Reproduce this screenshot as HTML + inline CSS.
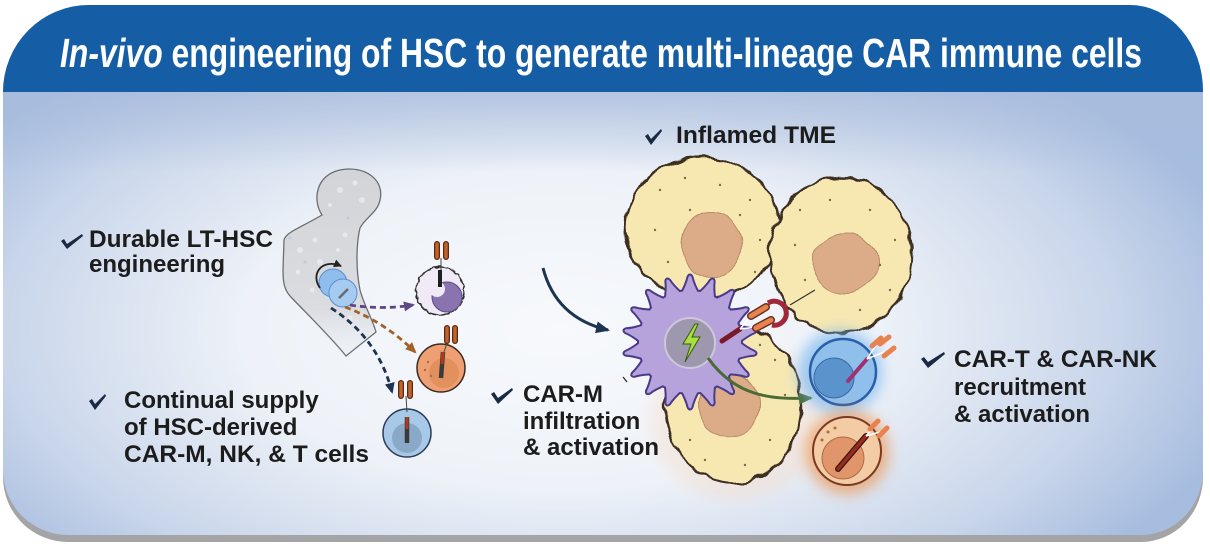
<!DOCTYPE html>
<html><head><meta charset="utf-8">
<style>
html,body{margin:0;padding:0;background:#fff;}
svg{display:block;}
text{font-family:"Liberation Sans",Arial,sans-serif;}
</style></head>
<body>
<svg width="1210" height="547" viewBox="0 0 1210 547" xmlns="http://www.w3.org/2000/svg">
<defs>
  <clipPath id="card"><path d="M3,92 A86 87 0 0 1 89,5 L1130,5 A73 86 0 0 1 1203,91 L1203,470 A62 65 0 0 1 1141,535 L68,535 A65 65 0 0 1 3,470 Z"/></clipPath>
  <radialGradient id="bg" gradientUnits="userSpaceOnUse" cx="560" cy="330" r="700" gradientTransform="translate(560 330) scale(1 0.5) translate(-560 -330)">
    <stop offset="0" stop-color="#f7f9fc"/>
    <stop offset="0.45" stop-color="#eef2f8"/>
    <stop offset="0.8" stop-color="#c8d5ea"/>
    <stop offset="1" stop-color="#a7bddf"/>
  </radialGradient>
  <linearGradient id="topfade" x1="0" y1="0" x2="0" y2="1">
    <stop offset="0" stop-color="#a8bbdc" stop-opacity="0.7"/>
    <stop offset="1" stop-color="#a8bbdc" stop-opacity="0"/>
  </linearGradient>
  <linearGradient id="bonefade" x1="0" y1="0" x2="0" y2="1">
    <stop offset="0" stop-color="#d2d4d8"/>
    <stop offset="0.75" stop-color="#dadce0"/>
    <stop offset="1" stop-color="#e8ebf0" stop-opacity="0.3"/>
  </linearGradient>
  <filter id="wob" x="-20%" y="-20%" width="140%" height="140%">
    <feTurbulence type="fractalNoise" baseFrequency="0.08" numOctaves="1" seed="4" result="n"/>
    <feDisplacementMap in="SourceGraphic" in2="n" scale="10" xChannelSelector="R" yChannelSelector="G"/>
  </filter>
  <filter id="wob2" x="-20%" y="-20%" width="140%" height="140%">
    <feTurbulence type="fractalNoise" baseFrequency="0.04" numOctaves="1" seed="7" result="n"/>
    <feDisplacementMap in="SourceGraphic" in2="n" scale="8" xChannelSelector="R" yChannelSelector="G"/>
  </filter>
  <filter id="wob3" x="-20%" y="-20%" width="140%" height="140%">
    <feTurbulence type="fractalNoise" baseFrequency="0.25" numOctaves="1" seed="2" result="n"/>
    <feDisplacementMap in="SourceGraphic" in2="n" scale="4" xChannelSelector="R" yChannelSelector="G"/>
  </filter>
  <filter id="blur" x="-50%" y="-50%" width="200%" height="200%"><feGaussianBlur stdDeviation="7"/></filter>
  <marker id="mNavy" markerUnits="userSpaceOnUse" markerWidth="16" markerHeight="16" refX="12" refY="8" orient="auto"><path d="M0,2 L14,8 L0,14 Z" fill="#1d3450"/></marker>
  <marker id="mGreen" markerUnits="userSpaceOnUse" markerWidth="16" markerHeight="16" refX="12" refY="8" orient="auto"><path d="M0,2 L14,8 L0,14 Z" fill="#4a6b35"/></marker>
  <marker id="mPur" markerUnits="userSpaceOnUse" markerWidth="12" markerHeight="12" refX="9" refY="6" orient="auto"><path d="M0,1 L11,6 L0,11 Z" fill="#5e4584"/></marker>
  <marker id="mBrn" markerUnits="userSpaceOnUse" markerWidth="12" markerHeight="12" refX="9" refY="6" orient="auto"><path d="M0,1 L11,6 L0,11 Z" fill="#a0622a"/></marker>
  <marker id="mDk" markerUnits="userSpaceOnUse" markerWidth="12" markerHeight="12" refX="9" refY="6" orient="auto"><path d="M0,1 L11,6 L0,11 Z" fill="#1e3350"/></marker>
  <marker id="mBlk" markerUnits="userSpaceOnUse" markerWidth="10" markerHeight="10" refX="7" refY="5" orient="auto"><path d="M0,1 L8,5 L0,9 Z" fill="#222"/></marker>
  <path id="sp" d="M-9,-47 Q-3,-58 -1.5,-65 Q0,-68 1.5,-65 Q3,-58 9,-47 Z"/>
  <g id="spikes">
    <circle cx="0" cy="0" r="51"/>
    <use href="#sp"/>
    <use href="#sp" transform="rotate(20)"/>
    <use href="#sp" transform="rotate(40)"/>
    <use href="#sp" transform="rotate(60)"/>
    <use href="#sp" transform="rotate(80)"/>
    <use href="#sp" transform="rotate(100)"/>
    <use href="#sp" transform="rotate(120)"/>
    <use href="#sp" transform="rotate(140)"/>
    <use href="#sp" transform="rotate(160)"/>
    <use href="#sp" transform="rotate(180)"/>
    <use href="#sp" transform="rotate(200)"/>
    <use href="#sp" transform="rotate(220)"/>
    <use href="#sp" transform="rotate(240)"/>
    <use href="#sp" transform="rotate(260)"/>
    <use href="#sp" transform="rotate(280)"/>
    <use href="#sp" transform="rotate(300)"/>
    <use href="#sp" transform="rotate(320)"/>
    <use href="#sp" transform="rotate(340)"/>
  </g>
</defs>

<!-- shadow -->
<path transform="translate(0 7)" d="M3,92 A86 87 0 0 1 89,5 L1130,5 A73 86 0 0 1 1203,91 L1203,470 A62 65 0 0 1 1141,535 L68,535 A65 65 0 0 1 3,470 Z" fill="#a4a4a6"/>

<g clip-path="url(#card)">
  <rect x="0" y="0" width="1210" height="547" fill="url(#bg)"/>
  <rect x="0" y="92" width="1210" height="80" fill="url(#topfade)"/>
  <rect x="0" y="0" width="1210" height="92" fill="#155ea5"/>
</g>

<!-- Title -->
<text x="60" y="67" font-size="41" font-weight="bold" fill="#ffffff" textLength="1082" lengthAdjust="spacingAndGlyphs"><tspan font-style="italic">In-vivo</tspan> engineering of HSC to generate multi-lineage CAR immune cells</text>

<!-- Bone -->
<path d="M322,215 C312,200 316,175 340,170 C365,165 385,180 380,200 C378,212 365,218 360,228 C356,245 356,270 360,290 C364,305 372,318 376,332 L346,356 C330,336 305,312 290,296 C284,289 283,282 283,270 L284,240 C286,232 300,228 322,215 Z" fill="url(#bonefade)" stroke="#4e5056" stroke-width="1.3" stroke-opacity="0.8"/>
<g fill="#eef0f3" opacity="0.7">
  <circle cx="340" cy="190" r="3"/><circle cx="355" cy="183" r="2.5"/><circle cx="362" cy="200" r="3"/><circle cx="330" cy="205" r="2"/>
  <circle cx="300" cy="250" r="3"/><circle cx="315" cy="240" r="2.5"/><circle cx="298" cy="272" r="2.5"/><circle cx="320" cy="262" r="3"/>
  <circle cx="345" cy="235" r="2.5"/><circle cx="338" cy="250" r="2"/><circle cx="312" cy="290" r="2.5"/><circle cx="350" cy="318" r="2.5"/>
</g>
<g fill="#b8c8dc" opacity="0.8"><circle cx="305" cy="262" r="1.5"/><circle cx="290" cy="238" r="1.5"/><circle cx="348" cy="218" r="1.5"/></g>

<!-- HSC -->
<circle cx="333" cy="283" r="14" fill="#8fbdec" stroke="#5b8fcf" stroke-width="1"/>
<circle cx="343" cy="293" r="14" fill="#a5cbf1" stroke="#5b8fcf" stroke-width="1"/>
<line x1="339" y1="298" x2="348" y2="289" stroke="#6a6a6a" stroke-width="2.5"/>
<path d="M320,288 C310,274 322,258 341,266" fill="none" stroke="#222" stroke-width="1.8" marker-end="url(#mBlk)"/>

<!-- dashed arrows -->
<path d="M350,305 Q382,310 413,305" fill="none" stroke="#5e4584" stroke-width="2.8" stroke-dasharray="6,4" marker-end="url(#mPur)"/>
<path d="M345,307 Q385,322 415,352" fill="none" stroke="#a0622a" stroke-width="2.8" stroke-dasharray="6,4" marker-end="url(#mBrn)"/>
<path d="M331,308 Q378,338 392,392" fill="none" stroke="#1e3350" stroke-width="2.8" stroke-dasharray="6,4" marker-end="url(#mDk)"/>

<!-- purple (M) cell -->
<circle cx="440" cy="291" r="24" fill="#efeaf5" stroke="#2e2e2e" stroke-width="1.5" filter="url(#wob3)"/>
<circle cx="447" cy="297" r="15" fill="#8a74b0" stroke="#5a4a80" stroke-width="1"/>
<circle cx="437" cy="289" r="8" fill="#efeaf5"/>
<line x1="440" y1="270" x2="440" y2="287" stroke="#1e1e1e" stroke-width="4"/>
<line x1="441" y1="258" x2="441" y2="270" stroke="#444" stroke-width="1"/>
<line x1="437" y1="244" x2="437" y2="257" stroke="#5a2a10" stroke-width="6" stroke-linecap="round"/>
<line x1="437" y1="244" x2="437" y2="257" stroke="#c0632e" stroke-width="3.5" stroke-linecap="round"/>
<line x1="446" y1="244" x2="446" y2="257" stroke="#5a2a10" stroke-width="6" stroke-linecap="round"/>
<line x1="446" y1="244" x2="446" y2="257" stroke="#c0632e" stroke-width="3.5" stroke-linecap="round"/>

<!-- orange (NK) cell -->
<circle cx="441" cy="368" r="24" fill="#eea072" stroke="#3a2a20" stroke-width="1.5"/>
<circle cx="444" cy="373" r="15" fill="#e2905e"/>
<circle cx="428" cy="362" r="1.2" fill="#b06a40"/><circle cx="425" cy="370" r="1.2" fill="#b06a40"/><circle cx="431" cy="376" r="1.2" fill="#b06a40"/>
<line x1="448" y1="340" x2="444" y2="352" stroke="#444" stroke-width="1"/>
<line x1="443" y1="352" x2="441" y2="378" stroke="#3a3a3a" stroke-width="4.5"/>
<line x1="443" y1="352" x2="442" y2="364" stroke="#b03a20" stroke-width="3"/>
<line x1="447" y1="328" x2="447" y2="341" stroke="#5a2a10" stroke-width="6" stroke-linecap="round"/>
<line x1="447" y1="328" x2="447" y2="341" stroke="#c0632e" stroke-width="3.5" stroke-linecap="round"/>
<line x1="455" y1="328" x2="455" y2="341" stroke="#5a2a10" stroke-width="6" stroke-linecap="round"/>
<line x1="455" y1="328" x2="455" y2="341" stroke="#c0632e" stroke-width="3.5" stroke-linecap="round"/>

<!-- blue (T) cell -->
<circle cx="407" cy="433" r="24" fill="#a8c8e8" stroke="#2a3a5a" stroke-width="1.5"/>
<circle cx="407" cy="438" r="15" fill="#8aa8c8"/>
<line x1="406" y1="396" x2="407" y2="412" stroke="#444" stroke-width="1"/>
<line x1="407" y1="417" x2="407" y2="443" stroke="#3a3a3a" stroke-width="4.5"/>
<line x1="407" y1="417" x2="407" y2="429" stroke="#b03a20" stroke-width="3"/>
<line x1="401" y1="383" x2="401" y2="396" stroke="#5a2a10" stroke-width="6" stroke-linecap="round"/>
<line x1="401" y1="383" x2="401" y2="396" stroke="#c0632e" stroke-width="3.5" stroke-linecap="round"/>
<line x1="410" y1="383" x2="410" y2="396" stroke="#5a2a10" stroke-width="6" stroke-linecap="round"/>
<line x1="410" y1="383" x2="410" y2="396" stroke="#c0632e" stroke-width="3.5" stroke-linecap="round"/>

<!-- big navy arrow -->
<path d="M543,268 Q556,318 608,330" fill="none" stroke="#1d3450" stroke-width="3" marker-end="url(#mNavy)"/>
<line x1="623" y1="377" x2="627" y2="382" stroke="#222" stroke-width="1.2"/>

<!-- faint warm haze -->
<ellipse cx="735" cy="420" rx="85" ry="80" fill="#f8d8c0" opacity="0.35" filter="url(#blur)"/>

<!-- Tumor cells -->
<g filter="url(#wob)">
  <ellipse cx="733" cy="405" rx="68" ry="78" fill="#f7e8b2" stroke="#3e2e24" stroke-width="2.4"/>
  <ellipse cx="702" cy="228" rx="77" ry="70" fill="#f7e8b2" stroke="#3e2e24" stroke-width="2.4"/>
  <ellipse cx="841" cy="255" rx="71" ry="78" fill="#f7e8b2" stroke="#3e2e24" stroke-width="2.4"/>
</g>
<g filter="url(#wob2)">
  <ellipse cx="712" cy="245" rx="30" ry="33" fill="#dcac88" stroke="#b98a66" stroke-width="1"/>
  <ellipse cx="845" cy="263" rx="33" ry="30" fill="#dcac88" stroke="#b98a66" stroke-width="1"/>
  <ellipse cx="729" cy="405" rx="30" ry="33" fill="#dcac88" stroke="#b98a66" stroke-width="1"/>
</g>
<g fill="#7a6a50">
  <circle cx="660" cy="190" r="1.2"/><circle cx="685" cy="178" r="1.2"/><circle cx="720" cy="185" r="1.2"/><circle cx="750" cy="200" r="1.2"/><circle cx="655" cy="230" r="1.2"/><circle cx="668" cy="262" r="1.2"/><circle cx="760" cy="240" r="1.2"/><circle cx="755" cy="272" r="1.2"/><circle cx="690" cy="210" r="1.2"/><circle cx="740" cy="215" r="1.2"/>
  <circle cx="800" cy="210" r="1.2"/><circle cx="830" cy="200" r="1.2"/><circle cx="870" cy="210" r="1.2"/><circle cx="895" cy="240" r="1.2"/><circle cx="890" cy="290" r="1.2"/><circle cx="860" cy="310" r="1.2"/><circle cx="805" cy="280" r="1.2"/><circle cx="795" cy="245" r="1.2"/><circle cx="880" cy="265" r="1.2"/>
  <circle cx="775" cy="360" r="1.2"/><circle cx="785" cy="395" r="1.2"/><circle cx="770" cy="440" r="1.2"/><circle cx="745" cy="465" r="1.2"/><circle cx="705" cy="460" r="1.2"/><circle cx="690" cy="440" r="1.2"/><circle cx="760" cy="345" r="1.2"/>
</g>

<!-- Macrophage -->
<use href="#spikes" transform="translate(690 342)" fill="#4a3a8a" stroke="#4a3a8a" stroke-width="4" stroke-linejoin="round"/>
<use href="#spikes" transform="translate(690 342)" fill="#b6a3dc" stroke="none"/>
<circle cx="690" cy="343" r="25" fill="#9d98ad" stroke="#cfc6dc" stroke-width="2"/>
<path d="M695,324 L683,344 L691,344 L685,362 L700,337 L692,337 L698,324 Z" fill="#a8e040" stroke="#3a5a10" stroke-width="1"/>

<!-- CAR receptor on macrophage -->
<line x1="722" y1="341" x2="740" y2="329" stroke="#7a1a28" stroke-width="5" stroke-linecap="round"/>
<line x1="740" y1="329" x2="752" y2="315" stroke="#ffffff" stroke-width="1.5"/>
<line x1="740" y1="329" x2="757" y2="327" stroke="#ffffff" stroke-width="1.5"/>
<line x1="751" y1="316" x2="766" y2="307" stroke="#6a3020" stroke-width="8" stroke-linecap="round"/>
<line x1="751" y1="316" x2="766" y2="307" stroke="#e8824f" stroke-width="5" stroke-linecap="round"/>
<line x1="756" y1="328" x2="771" y2="320" stroke="#6a3020" stroke-width="8" stroke-linecap="round"/>
<line x1="756" y1="328" x2="771" y2="320" stroke="#e8824f" stroke-width="5" stroke-linecap="round"/>
<path d="M768,303 A12 12 0 1 1 772,325" fill="none" stroke="#a02838" stroke-width="5"/>
<line x1="790" y1="305" x2="815" y2="290" stroke="#333" stroke-width="1.2"/>

<!-- green arrow -->
<path d="M708,358 C735,396 770,400 811,398" fill="none" stroke="#4a6b35" stroke-width="3" marker-end="url(#mGreen)"/>

<!-- T cell right -->
<circle cx="840" cy="372" r="42" fill="#6fb2ee" opacity="0.65" filter="url(#blur)"/>
<circle cx="843" cy="372" r="33" fill="#8fc0ec" stroke="#2a5ea8" stroke-width="2.5"/>
<circle cx="834" cy="378" r="20" fill="#5b93cc" stroke="#3a6aa0" stroke-width="1"/>
<line x1="848" y1="381" x2="867" y2="359" stroke="#a03070" stroke-width="4" stroke-linecap="round"/>
<line x1="867" y1="359" x2="876" y2="345" stroke="#fff" stroke-width="1.5"/>
<line x1="867" y1="359" x2="884" y2="352" stroke="#fff" stroke-width="1.5"/>
<line x1="872" y1="346" x2="881" y2="338" stroke="#e8824f" stroke-width="5" stroke-linecap="round"/>
<line x1="880" y1="344" x2="889" y2="337" stroke="#e8824f" stroke-width="5" stroke-linecap="round"/>
<line x1="884" y1="356" x2="894" y2="348" stroke="#e8824f" stroke-width="5" stroke-linecap="round"/>

<!-- NK cell right -->
<circle cx="847" cy="452" r="42" fill="#f08a3a" opacity="0.6" filter="url(#blur)"/>
<circle cx="847" cy="451" r="34" fill="#f3cba5" stroke="#7a3a22" stroke-width="2"/>
<circle cx="843" cy="458" r="21" fill="#e0956a" stroke="#b06a40" stroke-width="1"/>
<circle cx="828" cy="432" r="1.5" fill="#b06a40"/><circle cx="835" cy="428" r="1.5" fill="#b06a40"/><circle cx="822" cy="440" r="1.5" fill="#b06a40"/>
<line x1="838" y1="469" x2="866" y2="436" stroke="#3a1a10" stroke-width="6" stroke-linecap="round"/>
<line x1="838" y1="469" x2="866" y2="436" stroke="#9a2a20" stroke-width="3.5" stroke-linecap="round"/>
<line x1="866" y1="436" x2="874" y2="427" stroke="#fff" stroke-width="1.5"/>
<line x1="866" y1="436" x2="880" y2="432" stroke="#fff" stroke-width="1.5"/>
<line x1="870" y1="429" x2="878" y2="421" stroke="#e8824f" stroke-width="5" stroke-linecap="round"/>
<line x1="879" y1="436" x2="887" y2="428" stroke="#e8824f" stroke-width="5" stroke-linecap="round"/>

<!-- Checkmarks -->
<g fill="#1a2a45">
  <path d="M61,241 L64,239 L67,244 L82,234 L83,236 L67,249 Z"/>
  <path d="M89,401 L92,399 L95,404 L105,394 L106,396 L95,410 Z"/>
  <path d="M645,136 L648,134 L651,139 L661,129 L662,131 L651,145 Z"/>
  <path d="M491,394 L494,392 L498,398 L512,388 L513,390 L498,404 Z"/>
  <path d="M921,359 L924,357 L928,362 L944,352 L945,354 L928,368 Z"/>
</g>

<!-- Labels -->
<g font-size="24" font-weight="bold" fill="#1c1c1c">
  <text x="89" y="247" textLength="184" lengthAdjust="spacingAndGlyphs">Durable LT-HSC</text>
  <text x="89" y="272">engineering</text>
  <text x="124" y="408">Continual supply</text>
  <text x="124" y="435">of HSC-derived</text>
  <text x="124" y="462" textLength="245" lengthAdjust="spacingAndGlyphs">CAR-M, NK, &amp; T cells</text>
  <text x="676" y="143" textLength="160" lengthAdjust="spacingAndGlyphs">Inflamed TME</text>
  <text x="523" y="402">CAR-M</text>
  <text x="523" y="429">infiltration</text>
  <text x="523" y="455">&amp; activation</text>
  <text x="954" y="367" textLength="203" lengthAdjust="spacingAndGlyphs">CAR-T &amp; CAR-NK</text>
  <text x="954" y="395">recruitment</text>
  <text x="954" y="422">&amp; activation</text>
</g>
</svg>
</body></html>
